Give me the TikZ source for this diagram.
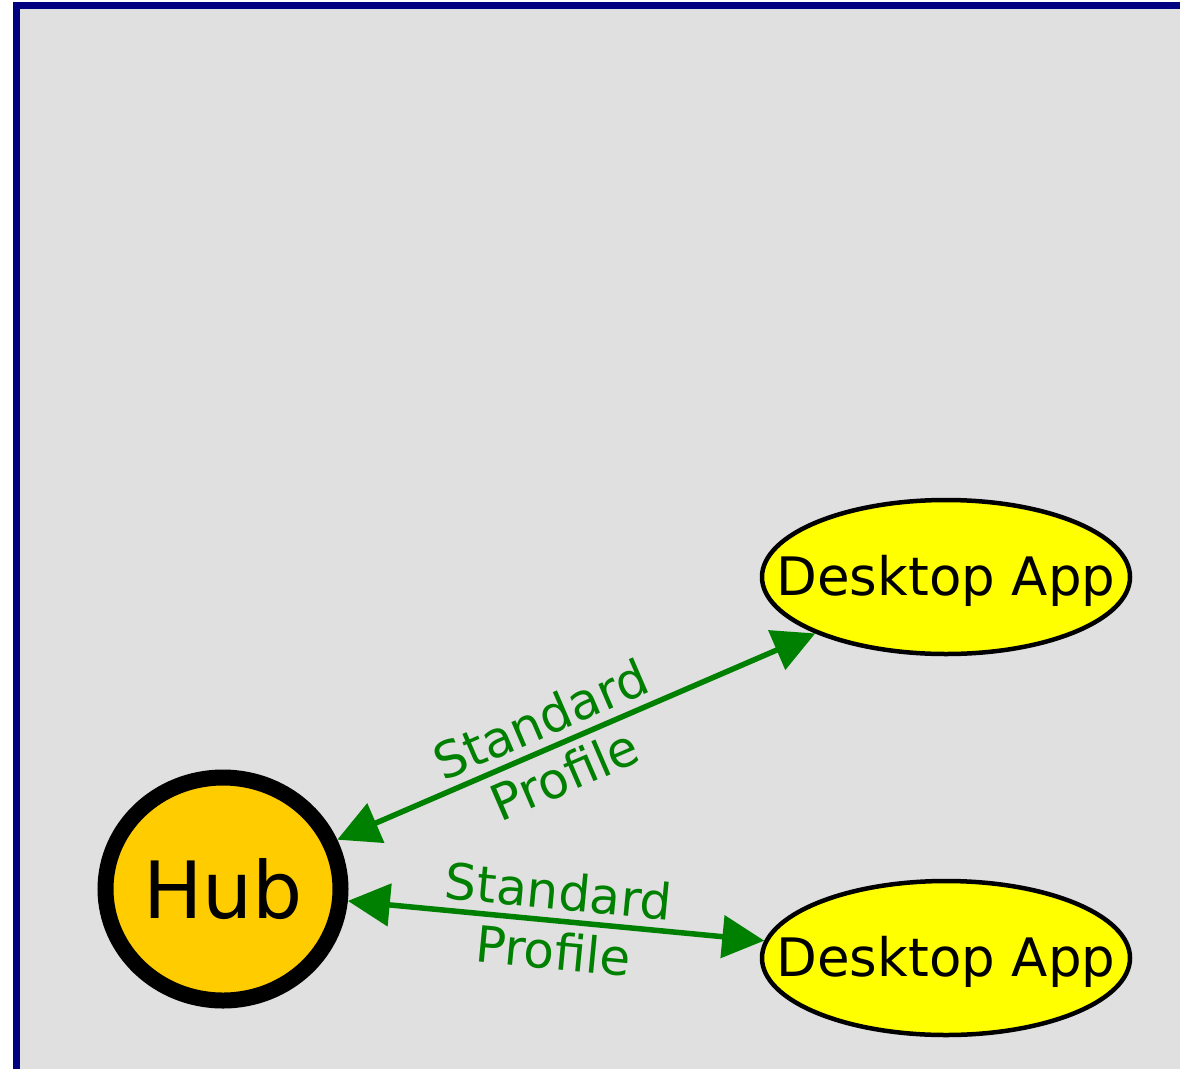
\documentclass[tikz,border=0pt]{standalone}
\usepackage{fontspec}
\setmainfont{DejaVu Sans}
\usetikzlibrary{shapes.geometric,arrows.meta}
\definecolor{hubgold}{HTML}{FFCC00}
\definecolor{appyellow}{HTML}{FFFF00}
\definecolor{panelgray}{HTML}{E0E0E0}
\definecolor{framenavy}{HTML}{000080}
\definecolor{linkgreen}{HTML}{008000}
\newcommand{\appname}[1]{\makebox[0pt][c]{#1}}
\tikzset{
	hub/.style={ellipse,draw,line width=16pt,fill=hubgold,minimum width=235pt,
		minimum height=223pt,inner sep=0pt,font=\fontsize{79}{94}\selectfont},
	app/.style={ellipse,draw,line width=4.5pt,fill=appyellow,minimum width=368pt,
		minimum height=154pt,inner sep=0pt,text depth=4pt,font=\fontsize{53}{63}\selectfont},
	link/.style={draw=linkgreen,line width=5.5pt,
		{Triangle[length=42pt,width=42pt]}-{Triangle[length=42pt,width=42pt]}},
	linklabel/.style={sloped,align=center,text=linkgreen,font=\fontsize{50}{60}\selectfont}
}

\begin{document}
\begin{tikzpicture}[x=1pt,y=-1pt]
		\useasboundingbox (0,0) rectangle (1180,1068);
		\clip (0,0) rectangle (1180,1068);
		\draw[framenavy,line width=7pt,fill=panelgray] (16.5,5.5) rectangle (1220,1110);
			\node[hub] (hub) at (223,889) {Hub};
			\node[app] (app1) at (946,577) {\appname{Desktop App}};
			\node[app] (app2) at (946,958) {\appname{Desktop App}};
				\draw[link] (hub) -- node[linklabel,pos=0.45] {Standard\\Profile} (app1);
				\draw[link] (hub) -- node[linklabel] {Standard\\Profile} (app2);
	\end{tikzpicture}
\end{document}
